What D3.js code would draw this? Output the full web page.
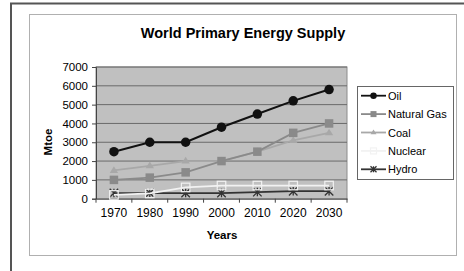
<!DOCTYPE html>
<html>
<head>
<meta charset="utf-8">
<script src="https://cdn.jsdelivr.net/npm/d3@7"></script>
<style>
  body { margin: 0; background: #fff; }
  text { font-family: Arial, "Liberation Sans", sans-serif; fill: #000; }
</style>
</head>
<body>
<div class="chart"></div>
<script>
const years = ['1970', '1980', '1990', '2000', '2010', '2020', '2030'];
const oil = [2500, 3000, 3000, 3800, 4500, 5200, 5800];
const naturalGas = [1000, 1120, 1400, 2000, 2500, 3500, 4000];
const coal = [1500, 1750, 2000, 2000, 2500, 3100, 3500];
const nuclear = [200, 280, 600, 700, 700, 700, 700];
const hydro = [300, 300, 300, 300, 350, 400, 400];
const yTicks = [0, 1000, 2000, 3000, 4000, 5000, 6000, 7000];

const series = [
  { name: 'Oil', values: oil, color: '#111', marker: 'circle' },
  { name: 'Natural Gas', values: naturalGas, color: '#8a8a8a', marker: 'square' },
  { name: 'Coal', values: coal, color: '#a8a8a8', marker: 'triangle' },
  { name: 'Nuclear', values: nuclear, color: '#f2f2f2', marker: 'hollow' },
  { name: 'Hydro', values: hydro, color: '#333', marker: 'star' },
];

const width = 464;
const height = 271;
const plot = { left: 96, right: 347, top: 67, bottom: 198.7 };

const svg = d3
  .select('div.chart')
  .append('svg')
  .attr('width', width)
  .attr('height', height);

// outer frame and chart area
svg.append('path')
  .attr('d', `M11,${height} V3.5 H${width}`)
  .attr('fill', 'none')
  .attr('stroke', '#555')
  .attr('stroke-width', 2);
svg.append('rect')
  .attr('x', 29.5).attr('y', 14.5)
  .attr('width', 427).attr('height', 241)
  .attr('fill', '#fff')
  .attr('stroke', '#b0b0b0');

const x = d3.scaleBand().domain(years).range([plot.left, plot.right]);
const y = d3.scaleLinear().domain([0, 7000]).range([plot.bottom, plot.top]);

svg.append('rect')
  .attr('x', plot.left).attr('y', plot.top)
  .attr('width', plot.right - plot.left).attr('height', plot.bottom - plot.top)
  .attr('fill', '#c0c0c0')
  .attr('stroke', '#8c8c8c');

svg.append('g')
  .selectAll('line')
  .data(yTicks.slice(1))
  .join('line')
  .attr('x1', plot.left).attr('x2', plot.right)
  .attr('y1', (d) => y(d)).attr('y2', (d) => y(d))
  .attr('stroke', '#6a6a6a');

const yAxis = svg.append('g')
  .attr('transform', `translate(${plot.left},0)`)
  .call(d3.axisLeft(y).tickValues(yTicks).tickSize(4).tickPadding(4).tickFormat(d3.format('d')));
yAxis.select('.domain').attr('stroke', '#444');
yAxis.selectAll('.tick line').attr('stroke', '#444');
yAxis.selectAll('text').attr('font-size', 11.5).attr('fill', '#000');

const xAxis = svg.append('g')
  .attr('transform', `translate(0,${plot.bottom})`)
  .call(d3.axisBottom(x).tickSize(0).tickPadding(10));
xAxis.select('.domain').attr('stroke', '#444');
xAxis.selectAll('text').attr('font-size', 12).attr('fill', '#000');
svg.append('g')
  .selectAll('line')
  .data(years.concat(['end']))
  .join('line')
  .attr('x1', (d, i) => plot.left + i * x.bandwidth())
  .attr('x2', (d, i) => plot.left + i * x.bandwidth())
  .attr('y1', plot.bottom).attr('y2', plot.bottom + 4)
  .attr('stroke', '#444');

const cx = (i) => x(years[i]) + x.bandwidth() / 2;

const drawMarker = (g, s, px, py, size) => {
  if (s.marker === 'circle') {
    g.append('circle').attr('cx', px).attr('cy', py).attr('r', size / 2).attr('fill', s.color);
  } else if (s.marker === 'square') {
    g.append('rect').attr('x', px - size / 2).attr('y', py - size / 2)
      .attr('width', size).attr('height', size).attr('fill', s.color);
  } else if (s.marker === 'triangle') {
    const h = size * 0.6;
    g.append('path').attr('d', `M${px},${py - h} L${px + h},${py + h * 0.6} L${px - h},${py + h * 0.6}Z`)
      .attr('fill', s.color);
  } else if (s.marker === 'hollow') {
    g.append('rect').attr('x', px - size / 2).attr('y', py - size / 2)
      .attr('width', size).attr('height', size).attr('fill', 'none')
      .attr('stroke', s.color).attr('stroke-width', 1.2);
  } else if (s.marker === 'star') {
    const r = size / 2;
    g.append('path')
      .attr('d', `M${px - r},${py - r}L${px + r},${py + r}M${px - r},${py + r}L${px + r},${py - r}M${px},${py - r}L${px},${py + r}`)
      .attr('stroke', s.color).attr('stroke-width', 1.3);
  }
};

const line = d3.line().x((d, i) => cx(i)).y((d) => y(d));

// draw back to front
[...series].reverse().forEach((s) => {
  const g = svg.append('g');
  g.append('path')
    .datum(s.values)
    .attr('d', line)
    .attr('fill', 'none')
    .attr('stroke', s.color)
    .attr('stroke-width', s.name === 'Oil' ? 2 : 1.8);
  const size = s.marker === 'circle' ? 9.5 : s.marker === 'square' ? 8.5 : s.marker === 'triangle' ? 7 : 8.5;
  s.values.forEach((v, i) => drawMarker(g, s, cx(i), y(v), size));
});

// titles
svg.append('text')
  .attr('x', 243).attr('y', 38)
  .attr('text-anchor', 'middle')
  .attr('font-size', 14.5).attr('font-weight', 'bold')
  .text('World Primary Energy Supply');
svg.append('text')
  .attr('x', 222).attr('y', 239)
  .attr('text-anchor', 'middle')
  .attr('font-size', 11.5).attr('font-weight', 'bold')
  .text('Years');
svg.append('text')
  .attr('transform', 'translate(52,142) rotate(-90)')
  .attr('text-anchor', 'middle')
  .attr('font-size', 11.5).attr('font-weight', 'bold')
  .text('Mtoe');

// legend
const legend = svg.append('g');
legend.append('rect')
  .attr('x', 357.5).attr('y', 86.5)
  .attr('width', 96).attr('height', 93)
  .attr('fill', '#fff').attr('stroke', '#666');
series.forEach((s, i) => {
  const ly = 95.7 + i * 18.4;
  const g = legend.append('g');
  g.append('line')
    .attr('x1', 361).attr('x2', 386).attr('y1', ly).attr('y2', ly)
    .attr('stroke', s.color).attr('stroke-width', 1.8);
  const size = s.marker === 'circle' ? 6.5 : s.marker === 'square' ? 6 : s.marker === 'triangle' ? 5 : 6;
  drawMarker(g, s, 373.5, ly, size);
  g.append('text')
    .attr('x', 388).attr('y', ly + 4)
    .attr('font-size', 11)
    .text(s.name);
});
</script>
</body>
</html>
